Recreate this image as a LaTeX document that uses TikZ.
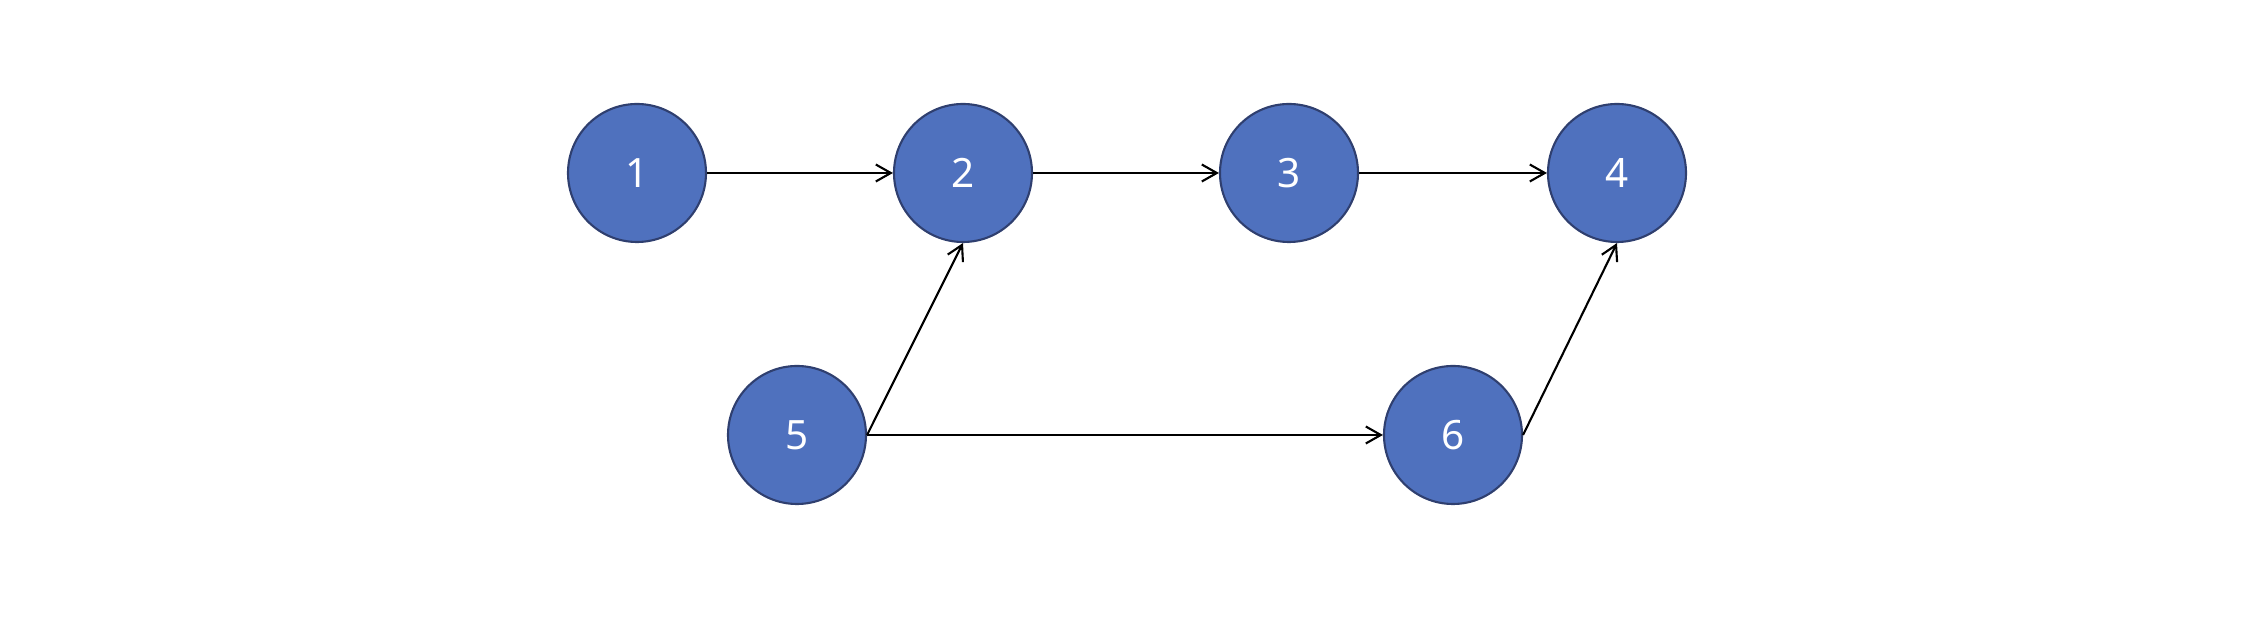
\documentclass[tikz,border=0pt]{standalone}
\usepackage{fontspec}
\setsansfont{Noto Sans}
\usetikzlibrary{positioning,arrows.meta}
\definecolor{nodefill}{HTML}{4F71BE}
\definecolor{nodeline}{HTML}{2F3F6F}
\begin{document}
\begin{tikzpicture}[node distance=32.6mm, line width=0.6pt, >={Straight Barb[length=1.5mm,width=1.7mm]},
	main/.style = {draw=nodeline,fill=nodefill,circle,inner sep=0pt,minimum size=1.38cm,text=white,font=\sffamily\fontsize{11.5}{14}\selectfont}]
	\useasboundingbox (0,0) rectangle (22.56,6.18);
	%Top row of graph
	\node[main] (1) at (6.37,4.45) {1};
	\node[main] (2) [right of=1] {2};
	\node[main] (3) [right of=2] {3};
	\node[main] (4) [node distance={32.8mm},right of=3] {4};
	%Bottom row of graph
	\node[main] (5) at (7.97,1.83) {5};
	\node[main] (6) [node distance={65.6mm},right of=5] {6};
	
	%Edges with direction
	\path [->] (1) edge (2); 	%Edge 1 -> 2
	\path [->] (2) edge (3); 	%Edge 2 -> 3
	\path [->] (3) edge (4); 	%Edge 3 -> 4
	\path [->] (5.east) edge (2.south); 	%Edge 5 -> 2
	\path [->] (5) edge (6); 	%Edge 5 -> 6
	\path [->] (6.east) edge (4.south); 	%Edge 6 -> 4
\end{tikzpicture}
\end{document}
